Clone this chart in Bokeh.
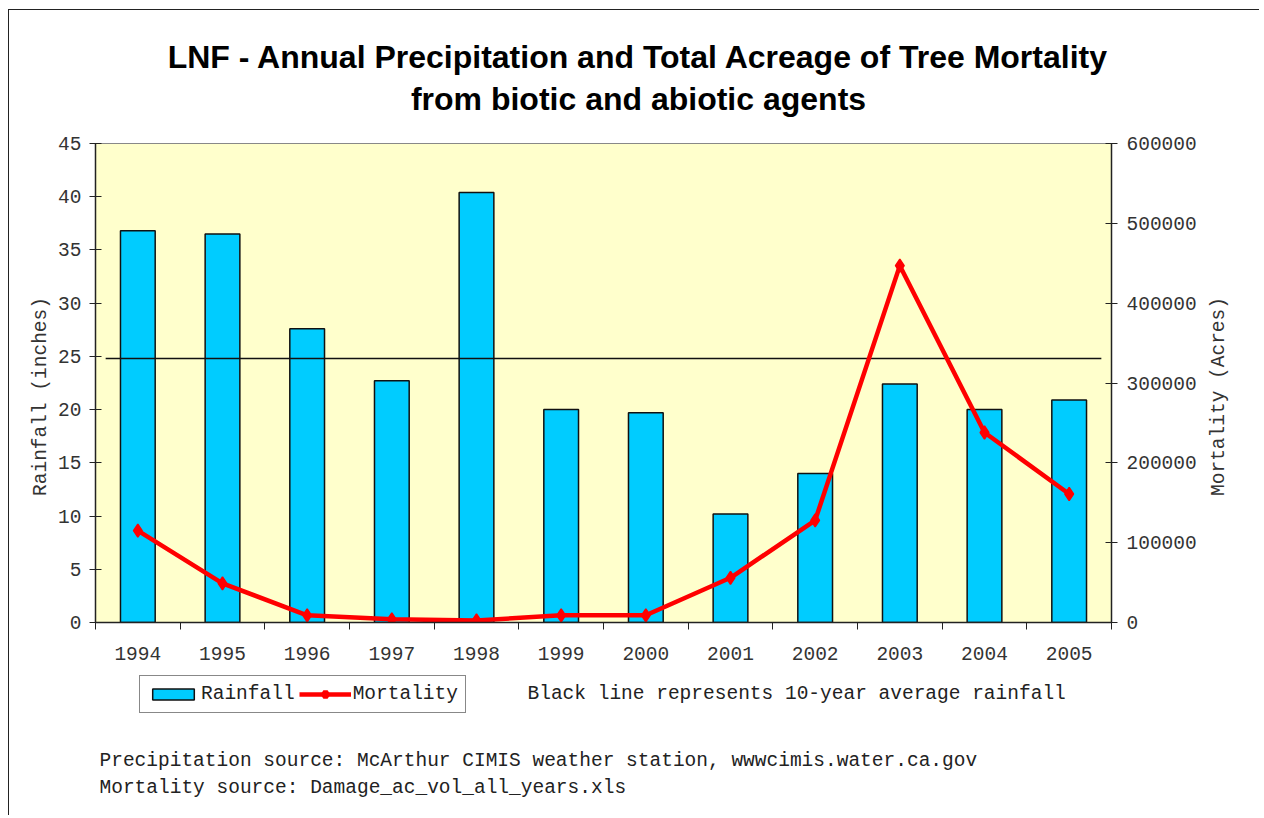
import math
from bokeh.plotting import figure
from bokeh.layouts import column, row
from bokeh.models import (Range1d, LinearAxis, FixedTicker, Label, Legend, LegendItem,
                          BasicTickFormatter)
from bokeh.embed import file_html
from bokeh.resources import INLINE

years = [1994, 1995, 1996, 1997, 1998, 1999, 2000, 2001, 2002, 2003, 2004, 2005]
rainfall = [36.8, 36.5, 27.6, 22.7, 40.4, 20.0, 19.7, 10.2, 14.0, 22.4, 20.0, 20.9]
mortality = [115000, 49000, 9000, 4000, 2500, 9000, 9000, 56000, 128000, 447000, 238000, 161000]
avg_rainfall = 24.8
rain_ticks = [0, 5, 10, 15, 20, 25, 30, 35, 40, 45]
mort_ticks = [0, 100000, 200000, 300000, 400000, 500000, 600000]

title_lines = ["LNF - Annual Precipitation and Total Acreage of Tree Mortality",
               "from biotic and abiotic agents"]
left_title = "Rainfall (inches)"
right_title = "Mortality (Acres)"
note_text = "Black line represents 10-year average rainfall"
source_lines = ["Precipitation source: McArthur CIMIS weather station, wwwcimis.water.ca.gov",
                "Mortality source: Damage_ac_vol_all_years.xls"]

MONO = "Liberation Mono"
SANS = "Liberation Sans"
FS = "19.5px"
W = 1250
MAIN_H = 542
LEFT_W = 46
RIGHT_W = 60

BAR_FILL = "#00CCFF"
RED = "#FF0000"


def blank(width, height, xr=(0, 1), yr=(0, 1)):
    f = figure(width=width, height=height, output_backend="svg", toolbar_location=None,
               x_range=Range1d(*xr), y_range=Range1d(*yr),
               x_axis_type=None, y_axis_type=None, min_border=0)
    f.frame_align = False
    f.outline_line_color = None
    f.xgrid.visible = False
    f.ygrid.visible = False
    f.background_fill_color = "white"
    f.border_fill_color = "white"
    return f


def add_label(f, x, y, text, font=MONO, size=FS, style="normal", align="left",
              color="#222222", angle=0):
    f.add_layout(Label(x=x, y=y, x_units="screen", y_units="screen", text=text,
                       text_font=font, text_font_size=size, text_font_style=style,
                       text_align=align, text_baseline="middle", text_color=color,
                       angle=angle))


# ---------- title ----------
TOP_H = 118
p_top = blank(W, TOP_H)
add_label(p_top, 629, TOP_H - 46, title_lines[0], font=SANS, size="32px", style="bold",
          align="center", color="black")
add_label(p_top, 629, TOP_H - 88, title_lines[1], font=SANS, size="32px", style="bold",
          align="center", color="black")

# ---------- axis titles ----------
p_left = blank(LEFT_W, MAIN_H)
add_label(p_left, 31, MAIN_H - 268, left_title, align="center", color="#333333", angle=math.pi / 2)
p_right = blank(RIGHT_W, MAIN_H)
add_label(p_right, 19, MAIN_H - 268, right_title, align="center", color="#333333", angle=math.pi / 2)

# ---------- main chart ----------
p = figure(width=W - LEFT_W - RIGHT_W, height=MAIN_H, output_backend="svg", toolbar_location=None,
           x_range=Range1d(years[0] - 0.5, years[-1] + 0.5),
           y_range=Range1d(rain_ticks[0], rain_ticks[-1]),
           min_border_left=85 - LEFT_W, min_border_right=148 - RIGHT_W,
           min_border_top=15, min_border_bottom=48,
           x_axis_type=None, y_axis_type=None)
p.frame_align = False
p.background_fill_color = "#FFFFCC"
p.border_fill_color = "white"
p.outline_line_color = "#888888"
p.xgrid.visible = False
p.ygrid.visible = False
p.extra_y_ranges = {"mort": Range1d(mort_ticks[0], mort_ticks[-1])}

xaxis = LinearAxis(ticker=FixedTicker(ticks=years,
                                      minor_ticks=[y - 0.5 for y in years] + [years[-1] + 0.5]),
                   major_label_overrides={y: str(y) for y in years})
xaxis.major_tick_in = 0
xaxis.major_tick_out = 0
xaxis.minor_tick_in = 0
xaxis.minor_tick_out = 7
xaxis.major_label_standoff = 17
p.add_layout(xaxis, "below")

yaxis = LinearAxis(ticker=FixedTicker(ticks=rain_ticks))
yaxis.major_tick_in = 6
yaxis.major_tick_out = 6
yaxis.major_label_standoff = 8
p.add_layout(yaxis, "left")

raxis = LinearAxis(y_range_name="mort", ticker=FixedTicker(ticks=mort_ticks),
                   formatter=BasicTickFormatter(use_scientific=False))
raxis.major_tick_in = 6
raxis.major_tick_out = 6
raxis.major_label_standoff = 9
p.add_layout(raxis, "right")

for ax in (xaxis, yaxis, raxis):
    ax.axis_line_color = "#222222"
    ax.axis_line_width = 1.5
    ax.major_tick_line_color = "#222222"
    ax.minor_tick_line_color = "#222222" if ax is xaxis else None
    ax.major_label_text_font = MONO
    ax.major_label_text_font_size = FS
    ax.major_label_text_color = "#333333"

p.vbar(x=years, top=rainfall, width=0.41, bottom=0,
       fill_color=BAR_FILL, line_color="#111111", line_width=1.5)

half = (years[-1] - years[0]) / 2 + 0.38
mid = (years[-1] + years[0]) / 2
p.line(x=[mid - half, mid + half], y=[avg_rainfall, avg_rainfall],
       line_color="#111111", line_width=1.5)

p.line(x=years, y=mortality, y_range_name="mort", line_color=RED, line_width=4.5)
p.scatter(x=years, y=mortality, y_range_name="mort", marker="diamond", size=13,
          fill_color=RED, line_color=RED, line_width=1.5)

# ---------- bottom: legend + notes ----------
# legend proxies (hidden renderers of the same series; the legend still draws their glyphs)
BOT_H = 145
p_bot = blank(W, BOT_H, xr=(years[0] - 0.5, years[-1] + 0.5), yr=(mort_ticks[0], mort_ticks[-1]))
lb = p_bot.vbar(x=years, top=rainfall, width=0.41, fill_color=BAR_FILL,
                line_color="#111111", line_width=1.5, visible=False)
ll = p_bot.line(x=years, y=mortality, line_color=RED, line_width=4.5, visible=False)
lsc = p_bot.scatter(x=years, y=mortality, marker="diamond", size=13, fill_color=RED,
                    line_color=RED, line_width=5, visible=False)
legend = Legend(items=[LegendItem(label="Rainfall", renderers=[lb], index=0),
                       LegendItem(label="Mortality", renderers=[ll, lsc], index=0)],
                orientation="horizontal", location=(130, BOT_H - 43))
legend.click_policy = "none"
legend.inactive_fill_alpha = 0
legend.label_text_font = MONO
legend.label_text_font_size = FS
legend.label_text_color = "#222222"
legend.glyph_width = 52
legend.glyph_height = 14
legend.spacing = 4
legend.padding = 7
legend.margin = 0
legend.label_standoff = 2
legend.border_line_color = "#111111"
legend.border_line_width = 1
legend.background_fill_color = "white"
legend.background_fill_alpha = 1
p_bot.add_layout(legend, "center")

add_label(p_bot, 518, BOT_H - 23, note_text)
add_label(p_bot, 90, BOT_H - 90, source_lines[0])
add_label(p_bot, 90, BOT_H - 117, source_lines[1])

middle = row(p_left, p, p_right, spacing=0)
layout = column(p_top, middle, p_bot, spacing=0)
layout.styles = {"border-left": "1px solid #222", "border-top": "1px solid #222",
                 "margin-left": "8px", "margin-top": "9px"}

open("out.html", "w").write(file_html(layout, INLINE))
